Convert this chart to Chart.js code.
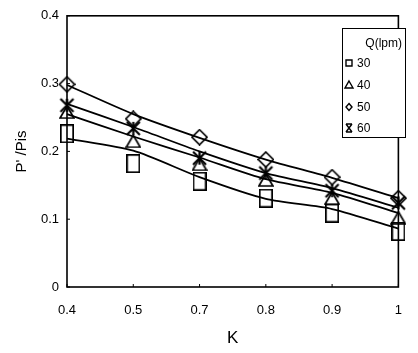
<!DOCTYPE html>
<html>
<head>
<meta charset="utf-8">
<script src="https://cdn.jsdelivr.net/npm/chart.js@4"></script>
<style>
html,body{margin:0;padding:0;background:#fff;}
#wrap{position:relative;width:418px;height:353px;}
</style>
</head>
<body>
<div id="wrap"><canvas id="c" width="418" height="353"></canvas></div>
<script>
// ---- data ----
const kLabels = ['0.4', '0.5', '0.7', '0.8', '0.9', '1'];
const seriesNames = ['30', '40', '50', '60'];
const q30 = [0.226, 0.182, 0.156, 0.131, 0.109, 0.082];
const q40 = [0.258, 0.215, 0.181, 0.158, 0.131, 0.102];
const q50 = [0.299, 0.248, 0.221, 0.188, 0.162, 0.131];
const q60 = [0.268, 0.234, 0.190, 0.168, 0.142, 0.124];
// fitted trend lines
const fit30 = [0.219, 0.201, 0.162, 0.130, 0.115, 0.086];
const fit40 = [0.255, 0.222, 0.191, 0.159, 0.139, 0.109];
const fit50 = [0.298, 0.255, 0.220, 0.188, 0.161, 0.131];
const fit60 = [0.270, 0.236, 0.200, 0.168, 0.146, 0.117];
const yTicks = [0, 0.1, 0.2, 0.3, 0.4];

// ---- marker images ----
function mk(w, h, lw, draw) {
  const c = document.createElement('canvas');
  c.width = w; c.height = h;
  const g = c.getContext('2d');
  g.strokeStyle = '#000'; g.lineWidth = lw; g.lineJoin = 'miter';
  draw(g, w, h);
  return c;
}
const mRect = mk(14, 19, 1.7, (g, w, h) => { g.strokeRect(0.85, 0.85, w - 1.7, h - 1.7); });
const mTri = mk(16, 14, 1.7, (g, w, h) => {
  g.beginPath(); g.moveTo(w / 2, 1); g.lineTo(w - 1, h - 1); g.lineTo(1, h - 1); g.closePath(); g.stroke();
});
const mDia = mk(17, 17, 1.7, (g, w, h) => {
  g.beginPath(); g.moveTo(w / 2, 1); g.lineTo(w - 1, h / 2); g.lineTo(w / 2, h - 1); g.lineTo(1, h / 2); g.closePath(); g.stroke();
});
const mStar = mk(17, 17, 2.2, (g, w, h) => {
  g.beginPath();
  g.moveTo(2, 2); g.lineTo(w - 2, h - 2);
  g.moveTo(w - 2, 2); g.lineTo(2, h - 2);
  g.moveTo(w / 2, 2); g.lineTo(w / 2, h - 2);
  g.stroke();
});

function lineDs(data) {
  return { type: 'line', data: data, borderColor: '#000', borderWidth: 1.8, pointRadius: 0,
           tension: 0.25, fill: false, order: 2 };
}
function markDs(label, data, style) {
  return { type: 'line', label: label, data: data, showLine: false, pointStyle: style,
           pointRadius: 8, borderColor: '#000', backgroundColor: 'rgba(0,0,0,0)', order: 1 };
}

const frame = {
  id: 'frame',
  afterDraw(chart) {
    const { ctx, chartArea: a, scales } = chart;
    ctx.save();
    ctx.strokeStyle = '#000';
    ctx.lineWidth = 1.6;
    ctx.strokeRect(a.left, a.top, a.right - a.left, a.bottom - a.top);
    // inward ticks
    ctx.lineWidth = 1;
    ctx.beginPath();
    yTicks.forEach(v => { const y = scales.y.getPixelForValue(v); ctx.moveTo(a.left, y); ctx.lineTo(a.left + 3, y); });
    kLabels.forEach((l, i) => { const x = scales.x.getPixelForValue(i); ctx.moveTo(x, a.bottom); ctx.lineTo(x, a.bottom - 3); });
    ctx.stroke();
    // legend box
    const bx = 342, by = 28, bw = 63, bh = 109;
    ctx.lineWidth = 1;
    ctx.fillStyle = '#fff';
    ctx.fillRect(bx, by, bw, bh);
    ctx.strokeRect(bx + 0.5, by + 0.5, bw, bh);
    ctx.fillStyle = '#000';
    ctx.font = '12px "Liberation Sans", Arial, sans-serif';
    ctx.textBaseline = 'middle';
    ctx.textAlign = 'right';
    ctx.fillText('Q(lpm)', bx + bw - 3, 44);
    ctx.textAlign = 'left';
    const rows = [63, 85, 107, 128];
    const mx = 349;
    ctx.lineWidth = 1.4;
    rows.forEach((y, i) => {
      ctx.fillText(seriesNames[i], 357, y + 1);
      ctx.beginPath();
      if (i === 0) { ctx.rect(mx - 3, y - 3, 6, 6); }
      else if (i === 1) { ctx.moveTo(mx, y - 4); ctx.lineTo(mx + 4, y + 3); ctx.lineTo(mx - 4, y + 3); ctx.closePath(); }
      else if (i === 2) { ctx.moveTo(mx, y - 3.5); ctx.lineTo(mx + 3, y); ctx.lineTo(mx, y + 3.5); ctx.lineTo(mx - 3, y); ctx.closePath(); }
      else { ctx.moveTo(mx - 3, y - 4); ctx.lineTo(mx + 3, y + 4); ctx.moveTo(mx + 3, y - 4); ctx.lineTo(mx - 3, y + 4);
             ctx.moveTo(mx - 3, y - 4); ctx.lineTo(mx + 3, y - 4); ctx.moveTo(mx - 3, y + 4); ctx.lineTo(mx + 3, y + 4); }
      ctx.stroke();
    });
    ctx.restore();
  }
};

const font = { family: '"Liberation Sans", Arial, sans-serif', size: 13 };
new Chart(document.getElementById('c'), {
  data: {
    labels: kLabels,
    datasets: [
      lineDs(fit50), lineDs(fit60), lineDs(fit40), lineDs(fit30),
      markDs(seriesNames[0], q30, mRect),
      markDs(seriesNames[1], q40, mTri),
      markDs(seriesNames[2], q50, mDia),
      markDs(seriesNames[3], q60, mStar)
    ]
  },
  options: {
    responsive: false,
    animation: false,
    devicePixelRatio: 1,
    layout: { padding: { left: 0, right: 3, top: 13, bottom: 0 } },
    plugins: { legend: { display: false }, tooltip: { enabled: false } },
    scales: {
      x: {
        type: 'category', offset: false,
        grid: { display: false, drawTicks: false },
        border: { display: false },
        ticks: { color: '#000', font: font, padding: 16, maxRotation: 0, autoSkip: false },
        title: { display: true, text: 'K', color: '#000', font: { family: font.family, size: 17 }, padding: { top: 0, bottom: 4 } },
        afterFit(s) { s.height = 66; }
      },
      y: {
        min: 0, max: 0.4,
        grid: { display: false, drawTicks: false },
        border: { display: false },
        afterBuildTicks(s) { s.ticks = yTicks.map(v => ({ value: v })); },
        ticks: { color: '#000', font: font, padding: 8,
                 callback: v => (v === 0 ? '0' : v.toFixed(1)) },
        title: { display: true, text: "P' /Pis", color: '#000', font: { family: font.family, size: 15 }, padding: { top: 13, bottom: 0 } },
        afterFit(s) { s.width = 67; }
      }
    }
  },
  plugins: [frame]
});
</script>
</body>
</html>
